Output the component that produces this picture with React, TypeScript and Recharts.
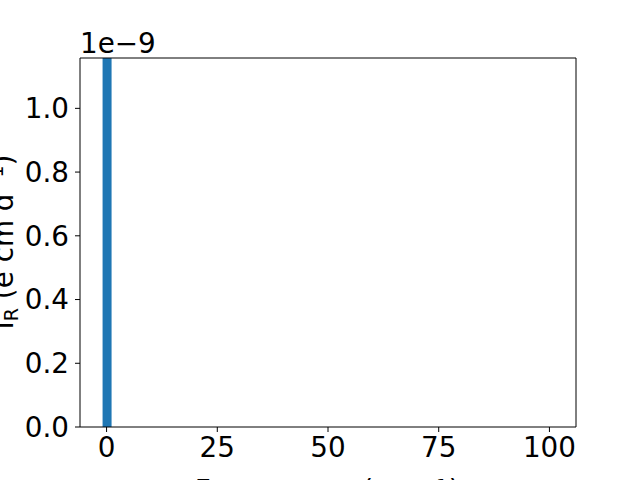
import { BarChart, Bar, XAxis, YAxis, ReferenceLine } from "recharts";

const frequencies = [0];
const intensities = [1.2e-9];
const xTicks = [0, 25, 50, 75, 100];
const yTicks = [0, 0.2e-9, 0.4e-9, 0.6e-9, 0.8e-9, 1.0e-9];
const xDomain = [-6, 106];
const yDomain = [0, 1.158e-9];

const data = frequencies.map((f, i) => ({ freq: f, ir: intensities[i] }));

const font = "DejaVu Sans, sans-serif";
const fs = 27.8;
const tickStyle = { fontSize: fs, fill: "#000", fontFamily: font };

const YLabel = () => (
  <text
    x={0}
    y={0}
    transform="translate(13, 242) rotate(-90)"
    textAnchor="middle"
    fontSize={fs}
    fontFamily={font}
    fill="#000"
  >
    I<tspan fontSize={19} dy={5}>R</tspan>
    <tspan dy={-5}> (e cm d</tspan>
    <tspan fontSize={19} dy={-10}>−1</tspan>
    <tspan dy={10}>)</tspan>
  </text>
);

const OffsetText = () => (
  <text x={80} y={53} fontSize={fs} fontFamily={font} fill="#000">
    1e−9
  </text>
);

export default function App() {
  return (
    <div style={{ position: "absolute", left: 0, top: 0, background: "#fff" }}>
      <BarChart
        width={640}
        height={480}
        data={data}
        margin={{ top: 58, right: 64, bottom: 0, left: 0 }}
      >
        <XAxis
          dataKey="freq"
          type="number"
          domain={xDomain}
          ticks={xTicks}
          height={53}
          tick={tickStyle}
          tickSize={5}
          tickMargin={5}
          stroke="#000"
          allowDataOverflow
          label={{
            value: "Frequency (cm⁻¹)",
            position: "bottom",
            offset: 0,
            style: { fontSize: fs, fontFamily: font, fill: "#000", letterSpacing: 1.5 },
          }}
        />
        <YAxis
          type="number"
          domain={yDomain}
          ticks={yTicks}
          width={80}
          tick={tickStyle}
          tickSize={5}
          tickMargin={6}
          tickFormatter={(v: number) => (v * 1e9).toFixed(1)}
          stroke="#000"
          allowDataOverflow
          label={{ content: () => <YLabel /> }}
        />
        <Bar
          dataKey="ir"
          fill="#1f77b4"
          barSize={9}
          isAnimationActive={false}
        />
        <ReferenceLine
          y={yDomain[1]}
          stroke="#000"
          strokeWidth={1}
          label={{ content: () => <OffsetText /> }}
        />
        <ReferenceLine x={xDomain[1]} stroke="#000" strokeWidth={1} />
      </BarChart>
    </div>
  );
}
